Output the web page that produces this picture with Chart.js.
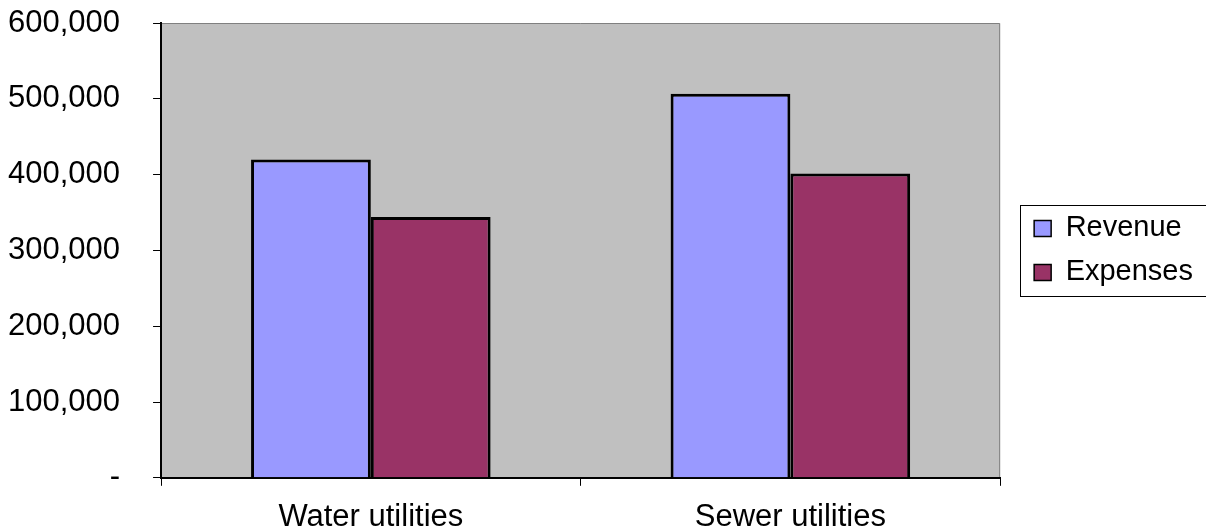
<!DOCTYPE html>
<html>
<head>
<meta charset="utf-8">
<script src="https://cdn.jsdelivr.net/npm/chart.js@4.4.0/dist/chart.umd.min.js"></script>
<style>
  html, body { margin: 0; padding: 0; background: #fff; }
  #wrap { width: 1206px; height: 531px; }
</style>
</head>
<body>
<div id="wrap"><canvas id="barras"></canvas></div>
<script>
// datos
const categorias = ["Water utilities", "Sewer utilities"];
const ingresos = [420000, 506500];
const gastos = [344000, 401500];
const yMax = 600000;
const yPaso = 100000;

const fuente = "Arial, 'Liberation Sans', sans-serif";

// fondo gris del area del grafico
const fondoPlot = {
  id: "fondoPlot",
  beforeDraw(chart) {
    const { ctx, chartArea: a } = chart;
    ctx.save();
    ctx.fillStyle = "#C0C0C0";
    ctx.fillRect(a.left, a.top, a.right - a.left, a.bottom - a.top);
    ctx.strokeStyle = "#808080";
    ctx.lineWidth = 1;
    ctx.beginPath();
    ctx.moveTo(a.left, a.top + 0.5);
    ctx.lineTo(a.right - 0.5, a.top + 0.5);
    ctx.lineTo(a.right - 0.5, a.bottom);
    ctx.stroke();
    ctx.restore();
  }
};

// mover la leyenda junto al area y centrarla verticalmente
const moverLeyenda = {
  id: "moverLeyenda",
  afterLayout(chart) {
    const L = chart.legend;
    const a = chart.chartArea;
    const dx = a.right + 19 - L.left;
    const dy = (a.top + a.bottom) / 2 - (L.top + L.bottom) / 2;
    L.left += dx; L.right += dx;
    L.top += dy; L.bottom += dy;
  }
};

// borde alrededor de la leyenda
const marcoLeyenda = {
  id: "marcoLeyenda",
  afterDraw(chart) {
    const cajas = chart.legend.legendHitBoxes;
    if (!cajas || !cajas.length) return;
    let l = Infinity, t = Infinity, r = -Infinity, b = -Infinity;
    cajas.forEach((c) => {
      l = Math.min(l, c.left); t = Math.min(t, c.top);
      r = Math.max(r, c.left + c.width); b = Math.max(b, c.top + c.height);
    });
    const ctx = chart.ctx;
    ctx.save();
    ctx.strokeStyle = "#000";
    ctx.lineWidth = 1;
    ctx.strokeRect(Math.round(l - 14) + 0.5, Math.round(t - 9) + 0.5, Math.round(r - l + 29), Math.round(b - t + 18));
    ctx.restore();
  }
};

new Chart(document.getElementById("barras").getContext("2d"), {
  type: "bar",
  data: {
    labels: categorias,
    datasets: [
      {
        label: "Revenue",
        data: ingresos,
        backgroundColor: "#9999FF",
        borderColor: "#000",
        borderWidth: 3,
      },
      {
        label: "Expenses",
        data: gastos,
        backgroundColor: "#993366",
        borderColor: "#000",
        borderWidth: 3,
      },
    ],
  },
  options: {
    responsive: true,
    maintainAspectRatio: false,
    animation: false,
    categoryPercentage: 0.571,
    barPercentage: 1,
    layout: { padding: { top: 23, left: -25, right: 22, bottom: -18 } },
    plugins: {
      tooltip: { enabled: false },
      legend: {
        position: "right",
        labels: {
          font: { family: fuente, size: 29 },
          color: "#000",
          boxWidth: 17,
          boxHeight: 16,
          padding: 15,
          generateLabels(chart) {
            return chart.data.datasets.map((d, i) => ({
              text: d.label,
              fillStyle: d.backgroundColor,
              strokeStyle: "#000",
              lineWidth: 1.5,
              datasetIndex: i,
            }));
          },
        },
      },
    },
    scales: {
      x: {
        grid: {
          offset: true,
          drawOnChartArea: false,
          drawTicks: true,
          tickLength: 8,
          color: "#000",
          lineWidth: 1,
        },
        border: { color: "#000", width: 2 },
        ticks: {
          font: { family: fuente, size: 31 },
          color: "#000",
          padding: 13,
        },
      },
      y: {
        min: 0,
        max: yMax,
        afterFit(escala) {
          // sin margen extra arriba/abajo por las etiquetas
          escala.paddingTop = 0;
          escala.paddingBottom = 0;
        },
        grid: {
          drawOnChartArea: false,
          drawTicks: true,
          tickLength: 8,
          color: "#000",
        },
        border: { color: "#000", width: 2 },
        ticks: {
          stepSize: yPaso,
          font: { family: fuente, size: 31 },
          color: "#000",
          padding: 33,
          callback: (v) => (v === 0 ? "-" : v.toLocaleString("en-US")),
        },
      },
    },
  },
  plugins: [fondoPlot, moverLeyenda, marcoLeyenda],
});
</script>
</body>
</html>
